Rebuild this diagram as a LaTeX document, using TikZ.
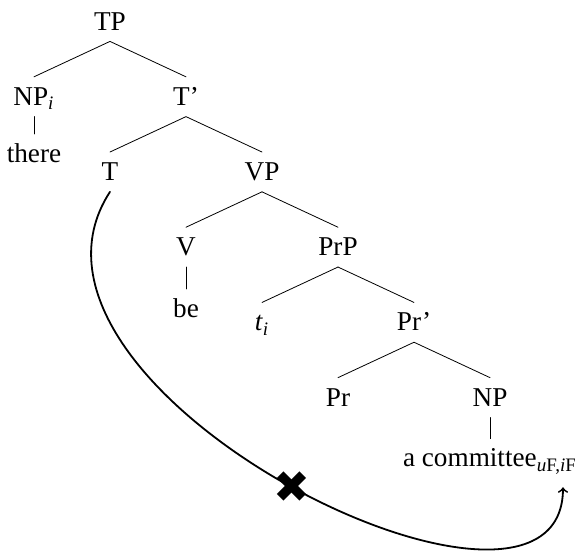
\documentclass[tikz,border=0pt]{standalone}
\usepackage{fontspec}
\setmainfont{Liberation Serif}
\newfontfamily\crossfont{DejaVu Sans}
\usetikzlibrary{arrows, calc}

\tikzset{
	cat/.style={anchor=base, inner sep=2pt, text height=12pt, text depth=3.5pt},
	agree/.style={line width=0.9pt, ->},
}

\begin{document}
\begin{tikzpicture}[x=38pt, y=37.6pt, line cap=round, line join=round,
	font=\fontsize{13.6}{15}\selectfont]
	
	\useasboundingbox (-0.447,0.399) rectangle (7.118,-6.94);
	
	%========================
	% tree nodes
	%========================
	\node[cat] (tp) at (1,0) {TP};
	\node[cat] (npi) at (0,-1) {NP\textsubscript{\textit{i}}};
	\node[cat] (tbar) at (2,-1) {T'};
	\node[cat] (there) at (0,-1.76) {there};
	\node[cat] (t) at (1,-2) {T};
	\node[cat] (vp) at (3,-2) {VP};
	\node[cat] (v) at (2,-3) {V};
	\node[cat] (prp) at (4,-3) {PrP};
	\node[cat] (be) at (2,-3.82) {be};
	\node[cat] (ti) at (3,-4) {\textit{t}\textsubscript{\textit{i}}};
	\node[cat] (prbar) at (5,-4) {Pr'};
	\node[cat] (pr) at (4,-5) {Pr};
	\node[cat] (np) at (6,-5) {NP};
	\node[cat] (committee) at (6,-5.81)
	{a committee\textsubscript{\textit{u}F,\textit{i}F}};
	
	% branches
	\draw (tp.south) -- (npi.north);
	\draw (tp.south) -- (tbar.north);
	\draw (npi.south) -- (there.north);
	\draw (tbar.south) -- (t.north);
	\draw (tbar.south) -- (vp.north);
	\draw (vp.south) -- (v.north);
	\draw (vp.south) -- (prp.north);
	\draw (v.south) -- (be.north);
	\draw (prp.south) -- (ti.north);
	\draw (prp.south) -- (prbar.north);
	\draw (prbar.south) -- (pr.north);
	\draw (prbar.south) -- (np.north);
	\draw (np.south) -- (committee.north);
	
	%========================
	% blocked Agree: T -> committee
	%========================
	\coordinate (cend) at (6.96,-6.08);
	\draw[agree] (t.south) .. controls +(-1.71,-2.65) and +(0,-2.5) .. (cend)
	node[pos=0.505, inner sep=0pt] (cross) {\crossfont\fontsize{22}{22}\selectfont ✖};
	
\end{tikzpicture}
\end{document}
